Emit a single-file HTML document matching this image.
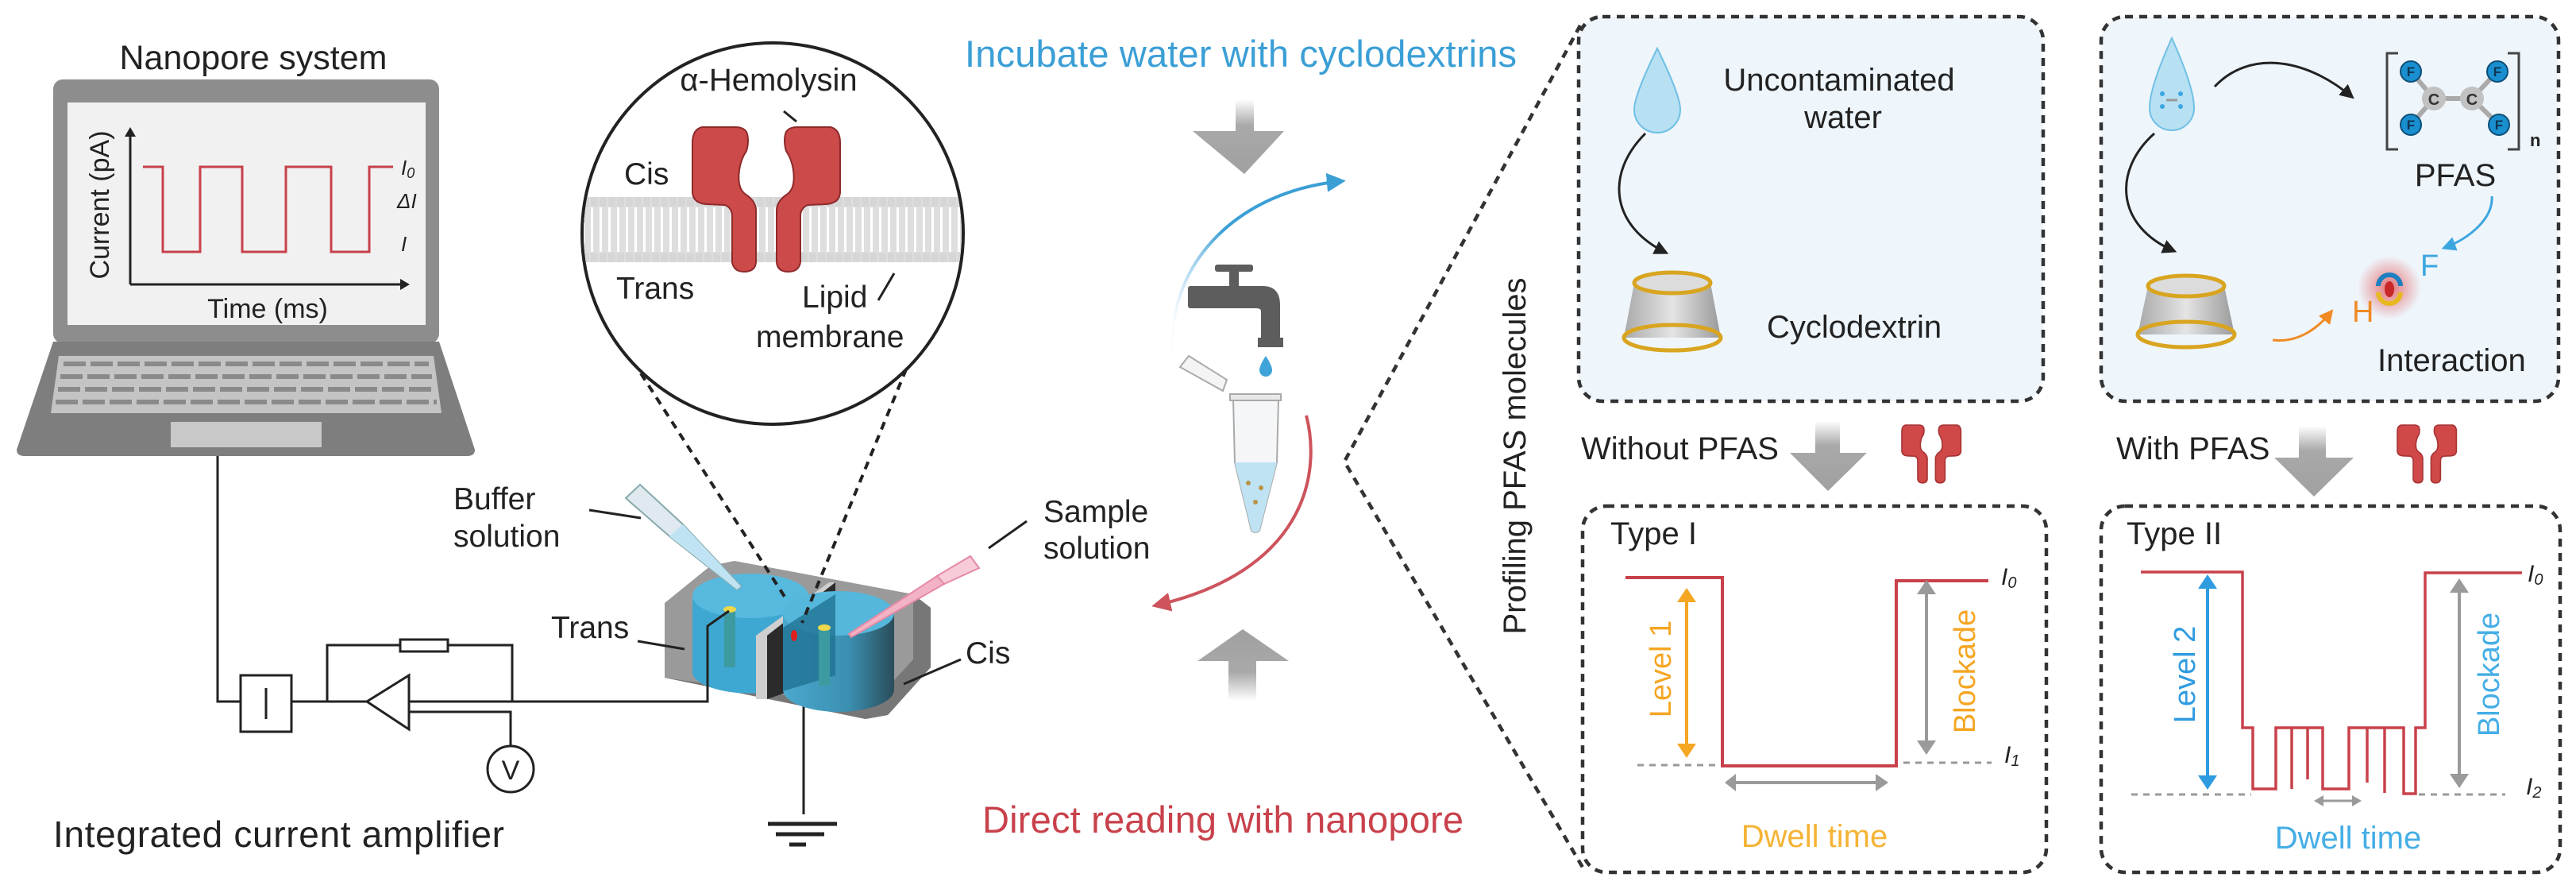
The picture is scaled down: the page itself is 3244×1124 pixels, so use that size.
<!DOCTYPE html>
<html><head><meta charset="utf-8"><style>
html,body{margin:0;padding:0;background:#fff;}
svg{display:block;}
text{font-family:"Liberation Sans",Arial,sans-serif;}
</style></head><body>
<svg width="3244" height="1124" viewBox="0 0 3244 1124" xmlns="http://www.w3.org/2000/svg">
<defs>
  <clipPath id="cc"><circle cx="973" cy="294" r="238"/></clipPath>
  <linearGradient id="ga" x1="0" y1="0" x2="0" y2="1"><stop offset="0" stop-color="#fff"/><stop offset="0.35" stop-color="#a9a9a9"/><stop offset="1" stop-color="#a0a0a0"/></linearGradient>
  <linearGradient id="gu" x1="0" y1="1" x2="0" y2="0"><stop offset="0" stop-color="#fff"/><stop offset="0.4" stop-color="#a9a9a9"/><stop offset="1" stop-color="#a0a0a0"/></linearGradient>
  <linearGradient id="cyl" x1="0" y1="0" x2="1" y2="0"><stop offset="0" stop-color="#a9a9a9"/><stop offset="0.5" stop-color="#e4e4e4"/><stop offset="1" stop-color="#9a9a9a"/></linearGradient>
  <linearGradient id="rc" x1="0" y1="0" x2="1" y2="0"><stop offset="0" stop-color="#4aa9cf"/><stop offset="0.6" stop-color="#3b8fb0"/><stop offset="1" stop-color="#2a4c5a"/></linearGradient>
  <radialGradient id="glow"><stop offset="0" stop-color="#e03a3a" stop-opacity="0.7"/><stop offset="1" stop-color="#e03a3a" stop-opacity="0"/></radialGradient>
  <linearGradient id="bc" x1="0" y1="0" x2="1" y2="0"><stop offset="0" stop-color="#3b9fd6" stop-opacity="0"/><stop offset="0.3" stop-color="#3b9fd6"/></linearGradient>
  <marker id="ab" viewBox="0 0 10 10" refX="8" refY="5" markerWidth="6" markerHeight="6" orient="auto"><path d="M0,0 L10,5 L0,10 z" fill="#3b9fd6"/></marker>
  <marker id="ar" viewBox="0 0 10 10" refX="8" refY="5" markerWidth="6" markerHeight="6" orient="auto"><path d="M0,0 L10,5 L0,10 z" fill="#c8414b"/></marker>
  <marker id="ak" viewBox="0 0 10 10" refX="8" refY="5" markerWidth="6" markerHeight="6" orient="auto"><path d="M0,0 L10,5 L0,10 z" fill="#222"/></marker>
  <marker id="ao" viewBox="0 0 10 10" refX="8" refY="5" markerWidth="6" markerHeight="6" orient="auto"><path d="M0,0 L10,5 L0,10 z" fill="#f08a24"/></marker>
  <marker id="af" viewBox="0 0 10 10" refX="8" refY="5" markerWidth="6" markerHeight="6" orient="auto"><path d="M0,0 L10,5 L0,10 z" fill="#3ba6e0"/></marker>
  <g id="prot">
    <path d="M884,160 Q872,163 872,180 L872,242 Q873,256 890,257 L913,258 Q922,262 922,272 L922,330 Q924,342 937,342 Q951,342 952,330 L952,264 Q951,252 938,244 Q928,236 931,214 Q933,200 940,190 Q944,176 940,166 Q936,160 926,160 Z"/>
    <path d="M1046,160 Q1058,163 1058,180 L1058,242 Q1057,256 1040,257 L1017,258 Q1008,262 1008,272 L1008,330 Q1006,342 993,342 Q979,342 978,330 L978,264 Q979,252 992,244 Q1002,236 999,214 Q997,200 990,190 Q986,176 990,166 Q994,160 1004,160 Z"/>
  </g>
</defs>

<!-- ============ LEFT: laptop ============ -->
<text x="319" y="87" font-size="43" fill="#222" text-anchor="middle">Nanopore system</text>
<rect x="67" y="100" width="486" height="332" rx="12" fill="#8d8d8d"/>
<rect x="85" y="129" width="451" height="280" fill="#f1f1f1"/>
<path d="M67,430 L553,430 L598,566 Q598,574 588,574 L31,574 Q21,574 21,566 Z" fill="#7e7e7e"/>
<path d="M74,448 L546,448 L556,520 L64,520 Z" fill="#c4c4c4"/>
<g stroke="#8a8a8a" stroke-width="6">
  <line x1="80" y1="458" x2="540" y2="458" stroke-dasharray="28 6"/>
  <line x1="76" y1="474" x2="544" y2="474" stroke-dasharray="28 6"/>
  <line x1="73" y1="490" x2="547" y2="490" stroke-dasharray="28 6"/>
  <line x1="70" y1="506" x2="550" y2="506" stroke-dasharray="28 6"/>
</g>
<rect x="215" y="531" width="190" height="32" fill="#c8c8c8"/>
<line x1="164" y1="358" x2="164" y2="166" stroke="#222" stroke-width="3"/>
<path d="M157,172 L164,160 L171,172 Z" fill="#222"/>
<line x1="164" y1="358" x2="508" y2="358" stroke="#222" stroke-width="3"/>
<path d="M504,351 L516,358 L504,365 Z" fill="#222"/>
<polyline points="180,210 205,210 205,317 252,317 252,210 305,210 305,317 360,317 360,210 417,210 417,317 465,317 465,210 495,210" fill="none" stroke="#c8414b" stroke-width="3"/>
<text x="505" y="220" font-size="26" font-style="italic" fill="#222">I<tspan font-size="18" dy="4">0</tspan></text>
<text x="500" y="262" font-size="26" font-style="italic" fill="#222">ΔI</text>
<text x="505" y="316" font-size="26" font-style="italic" fill="#222">I</text>
<text x="125" y="258" font-size="34" fill="#222" text-anchor="middle" transform="rotate(-90 125 258)" dy="12">Current (pA)</text>
<text x="337" y="400" font-size="34" fill="#222" text-anchor="middle">Time (ms)</text>

<!-- circuit -->
<g stroke="#222" stroke-width="3" fill="none">
  <polyline points="274,574 274,883 303,883"/>
  <rect x="303" y="850" width="64" height="71" fill="#fff"/>
  <line x1="335" y1="866" x2="335" y2="905"/>
  <line x1="367" y1="883" x2="462" y2="883"/>
  <polyline points="412,883 412,812 504,812"/>
  <rect x="504" y="805" width="60" height="15" fill="#fff"/>
  <polyline points="564,812 645,812 645,883"/>
  <path d="M462,883 L515,850 L515,918 Z" fill="#fff"/>
  <polyline points="515,883 891,883 891,788 918,769"/>
  <polyline points="515,896 643,896 643,939"/>
  <circle cx="643" cy="968" r="29" fill="#fff"/>
  <polyline points="1040,792 1012,811 1012,1025"/>
  <line x1="967" y1="1037" x2="1054" y2="1037" stroke-width="5"/>
  <line x1="977" y1="1050" x2="1038" y2="1050" stroke-width="5"/>
  <line x1="994" y1="1063" x2="1015" y2="1063" stroke-width="5"/>
</g>
<text x="643" y="981" font-size="34" fill="#222" text-anchor="middle">V</text>
<text x="67" y="1066" font-size="46" fill="#222" textLength="568">Integrated current amplifier</text>

<!-- chamber -->
<path d="M837,759 L895,712 L925,706 L1150,748 L1172,765 L1172,840 L1118,900 L1090,905 L837,853 Z" fill="#9a9a9a"/>
<path d="M837,853 L1090,905 L1118,900 L1172,840 L1172,765 L1150,748 L1150,830 L1095,890 Z" fill="#777"/>
<path d="M872,750 L872,848 A73,28 0 0 0 1017,848 L1017,750 Z" fill="#3ea8d2"/>
<ellipse cx="945" cy="750" rx="73" ry="28" fill="#58b9de"/>
<path d="M952,800 L1044,733 L1052,733 L966,800 L966,880 L952,880 Z" fill="#cfcfcf"/>
<path d="M966,800 L1052,733 L1052,850 L966,880 Z" fill="#2b2b2b"/>
<path d="M986,772 L986,868 A70,28 0 0 0 1126,868 L1126,772 Z" fill="url(#rc)"/>
<ellipse cx="1056" cy="772" rx="70" ry="28" fill="#56b7dc"/>
<path d="M986,790 L1052,748 L1052,850 L986,870 Z" fill="#1e6f8f" opacity="0.75"/>
<rect x="912" y="767" width="14" height="73" fill="#3c9aa0"/>
<ellipse cx="919" cy="767" rx="8" ry="4" fill="#f0d84a"/>
<rect x="1031" y="790" width="14" height="73" fill="#3c9aa0"/>
<ellipse cx="1038" cy="790" rx="8" ry="4" fill="#f0d84a"/>
<ellipse cx="1000" cy="800" rx="4" ry="7" fill="#e02020"/>
<polyline points="891,883 891,788 918,769" fill="none" stroke="#222" stroke-width="3"/>
<path d="M788,627 L806,610 L860,660 L933,738 L928,742 L843,675 Z" fill="#dfe9ef" stroke="#8aa" stroke-width="2"/>
<path d="M860,660 L933,738 L928,742 L843,675 Z" fill="#bfe3f3"/>
<path d="M1069,798 L1180,725 L1189,735 L1072,802 Z" fill="#f3b3c6" stroke="#e58aa5" stroke-width="2"/>
<path d="M1180,725 L1222,700 L1233,715 L1189,735 Z" fill="#f7cbd8" stroke="#e58aa5" stroke-width="2"/>
<text x="571" y="641" font-size="39" fill="#222">Buffer</text>
<text x="571" y="688" font-size="39" fill="#222">solution</text>
<line x1="742" y1="642" x2="807" y2="652" stroke="#222" stroke-width="3"/>
<text x="694" y="803" font-size="39" fill="#222">Trans</text>
<line x1="803" y1="807" x2="862" y2="817" stroke="#222" stroke-width="3"/>
<text x="1314" y="657" font-size="39" fill="#222">Sample</text>
<text x="1314" y="703" font-size="39" fill="#222">solution</text>
<line x1="1245" y1="690" x2="1293" y2="656" stroke="#222" stroke-width="3"/>
<text x="1216" y="835" font-size="39" fill="#222">Cis</text>
<line x1="1138" y1="861" x2="1210" y2="830" stroke="#222" stroke-width="3"/>
<line x1="807" y1="470" x2="990" y2="754" stroke="#222" stroke-width="4" stroke-dasharray="10 8"/>
<line x1="1148" y1="448" x2="1010" y2="784" stroke="#222" stroke-width="4" stroke-dasharray="10 8"/>

<!-- magnified circle -->
<circle cx="973" cy="294" r="240" fill="#fff" stroke="#222" stroke-width="4"/>
<g clip-path="url(#cc)">
  <rect x="700" y="248" width="560" height="82" rx="8" fill="#dedede"/>
  <line x1="700" y1="289" x2="1260" y2="289" stroke="#fff" stroke-width="56" stroke-dasharray="3 8"/>
  <line x1="700" y1="254" x2="1260" y2="254" stroke="#d6d6d6" stroke-width="12" stroke-dasharray="9 2"/>
  <line x1="700" y1="324" x2="1260" y2="324" stroke="#d6d6d6" stroke-width="12" stroke-dasharray="9 2"/>
</g>
<use href="#prot" fill="#cc4a4a" stroke="#8e2a2a" stroke-width="2"/>
<text x="968" y="114" font-size="40" fill="#222" text-anchor="middle">α-Hemolysin</text>
<line x1="987" y1="140" x2="1003" y2="153" stroke="#222" stroke-width="3"/>
<text x="786" y="232" font-size="39" fill="#222">Cis</text>
<text x="776" y="376" font-size="39" fill="#222">Trans</text>
<text x="1010" y="387" font-size="39" fill="#222">Lipid</text>
<text x="952" y="437" font-size="39" fill="#222">membrane</text>
<line x1="1126" y1="344" x2="1106" y2="378" stroke="#222" stroke-width="3"/>

<!-- ============ MIDDLE ============ -->
<text x="1215" y="84" font-size="47" fill="#3b9fd6" textLength="695">Incubate water with cyclodextrins</text>
<path d="M1556,125 L1579,125 L1579,165 L1617,165 L1567,219 L1502,165 L1556,165 Z" fill="url(#ga)"/>
<path d="M1476,445 C1470,330 1560,240 1690,228" fill="none" stroke="url(#bc)" stroke-width="4" marker-end="url(#ab)"/>
<g fill="#5d5d5d">
  <rect x="1530" y="333" width="48" height="9" rx="3"/>
  <rect x="1548" y="340" width="12" height="22"/>
  <rect x="1496" y="360" width="80" height="28" rx="3"/>
  <path d="M1570,360 L1590,360 Q1612,360 1612,384 L1612,430 L1588,430 L1588,392 Q1588,388 1582,388 L1570,388 Z"/>
  <rect x="1584" y="425" width="32" height="12"/>
</g>
<path d="M1594,448 Q1602,460 1602,466 A8,8 0 0 1 1586,466 Q1586,460 1594,448 Z" fill="#3ea3d8"/>
<path d="M1486,462 L1497,448 L1545,478 L1540,492 Z" fill="#f4f4f4" stroke="#aaa" stroke-width="2"/>
<path d="M1553,502 L1610,502 L1608,582 L1586,668 Q1581,672 1576,668 L1555,582 Z" fill="#f4f6f8" stroke="#aaa" stroke-width="2"/>
<path d="M1555,582 L1608,582 L1586,668 Q1581,672 1576,668 Z" fill="#bfe3f3"/>
<rect x="1549" y="496" width="64" height="8" fill="#e8e8e8" stroke="#aaa" stroke-width="2"/>
<circle cx="1572" cy="608" r="3" fill="#b8944a"/><circle cx="1588" cy="614" r="3" fill="#b8944a"/><circle cx="1581" cy="632" r="3" fill="#b8944a"/>
<path d="M1645,523 C1665,600 1640,720 1455,762" fill="none" stroke="#c8414b" stroke-width="4" marker-end="url(#ar)" opacity="0.9"/>
<path d="M1565,792 L1623,832 L1582,832 L1582,882 L1547,882 L1547,832 L1508,832 Z" fill="url(#gu)"/>
<text x="1237" y="1048" font-size="47" fill="#c8414b" textLength="606">Direct reading with nanopore</text>
<polyline points="1990,32 1693,581 1995,1095" fill="none" stroke="#333" stroke-width="4.5" stroke-dasharray="10 8"/>
<text x="1907" y="574" font-size="40" fill="#222" text-anchor="middle" transform="rotate(-90 1907 574)" dy="14">Profiling PFAS molecules</text>

<!-- ============ RIGHT TOP BOXES ============ -->
<rect x="1988" y="21" width="585" height="484" rx="30" fill="#eef5fb" stroke="#333" stroke-width="4.5" stroke-dasharray="10 8"/>
<path d="M2087,61 Q2116,120 2116,138 A29,29 0 0 1 2058,138 Q2058,120 2087,61 Z" fill="#b7e0f3" stroke="#6fc0e4" stroke-width="2"/>
<text x="2316" y="114" font-size="40" fill="#222" text-anchor="middle">Uncontaminated</text>
<text x="2321" y="161" font-size="40" fill="#222" text-anchor="middle">water</text>
<path d="M2072,168 C2020,220 2030,285 2098,318" fill="none" stroke="#222" stroke-width="3" marker-end="url(#ak)"/>
<g>
  <path d="M2058,356 L2154,356 L2167,425 L2045,425 Z" fill="url(#cyl)"/>
  <ellipse cx="2106" cy="356" rx="48" ry="13" fill="#dcdcdc" stroke="#d9a520" stroke-width="5"/>
  <ellipse cx="2106" cy="425" rx="61" ry="16" fill="none" stroke="#d9a520" stroke-width="5"/>
</g>
<text x="2225" y="425" font-size="40" fill="#222">Cyclodextrin</text>

<rect x="2646" y="21" width="576" height="484" rx="30" fill="#eef5fb" stroke="#333" stroke-width="4.5" stroke-dasharray="10 8"/>
<path d="M2735,48 Q2763,110 2763,136 A28,28 0 0 1 2707,136 Q2707,110 2735,48 Z" fill="#b7e0f3" stroke="#6fc0e4" stroke-width="2"/>
<g fill="#3ba6e0"><circle cx="2723" cy="118" r="3"/><circle cx="2723" cy="134" r="3"/><circle cx="2746" cy="118" r="3"/><circle cx="2746" cy="134" r="3"/></g>
<line x1="2728" y1="126" x2="2742" y2="126" stroke="#999" stroke-width="3"/>
<path d="M2789,109 C2830,65 2900,70 2962,122" fill="none" stroke="#222" stroke-width="3" marker-end="url(#ak)"/>
<path d="M2713,168 C2660,215 2665,285 2738,316" fill="none" stroke="#222" stroke-width="3" marker-end="url(#ak)"/>
<path d="M3020,67 L3006,67 L3006,188 L3020,188" fill="none" stroke="#444" stroke-width="3"/>
<path d="M3158,67 L3172,67 L3172,188 L3158,188" fill="none" stroke="#444" stroke-width="3"/>
<g stroke="#aaa" stroke-width="6"><line x1="3036" y1="90" x2="3065" y2="124"/><line x1="3036" y1="157" x2="3065" y2="124"/><line x1="3065" y1="124" x2="3113" y2="124"/><line x1="3113" y1="124" x2="3145" y2="90"/><line x1="3113" y1="124" x2="3147" y2="157"/></g>
<circle cx="3065" cy="124" r="15" fill="#c2c2c2"/><circle cx="3113" cy="124" r="15" fill="#c2c2c2"/>
<text x="3065" y="132" font-size="20" font-weight="bold" fill="#333" text-anchor="middle">C</text>
<text x="3113" y="132" font-size="20" font-weight="bold" fill="#333" text-anchor="middle">C</text>
<g fill="#1a8fd0" stroke="#0d4f78" stroke-width="2"><circle cx="3036" cy="90" r="13"/><circle cx="3145" cy="90" r="13"/><circle cx="3036" cy="157" r="13"/><circle cx="3147" cy="157" r="13"/></g>
<g font-size="17" font-weight="bold" fill="#0d3550" text-anchor="middle"><text x="3036" y="96">F</text><text x="3145" y="96">F</text><text x="3036" y="163">F</text><text x="3147" y="163">F</text></g>
<text x="3186" y="184" font-size="22" font-weight="bold" fill="#222">n</text>
<text x="3092" y="234" font-size="40" fill="#222" text-anchor="middle">PFAS</text>
<path d="M3138,247 C3140,275 3110,300 3078,312" fill="none" stroke="#3ba6e0" stroke-width="3" marker-end="url(#af)"/>
<text x="3048" y="347" font-size="38" fill="#3ba6e0">F</text>
<circle cx="3009" cy="362" r="40" fill="url(#glow)"/>
<path d="M2995,360 A14,14 0 0 1 3023,360" fill="none" stroke="#1e7fc0" stroke-width="6"/>
<path d="M2995,368 A14,14 0 0 0 3023,368" fill="none" stroke="#e8b820" stroke-width="6"/>
<ellipse cx="3009" cy="364" rx="6" ry="10" fill="#c82828"/>
<text x="2962" y="405" font-size="38" fill="#f08a24">H</text>
<path d="M2862,428 C2895,432 2920,412 2936,392" fill="none" stroke="#f08a24" stroke-width="3" marker-end="url(#ao)"/>
<g>
  <path d="M2705,360 L2801,360 L2814,421 L2692,421 Z" fill="url(#cyl)"/>
  <ellipse cx="2753" cy="360" rx="48" ry="13" fill="#dcdcdc" stroke="#d9a520" stroke-width="5"/>
  <ellipse cx="2753" cy="421" rx="61" ry="16" fill="none" stroke="#d9a520" stroke-width="5"/>
</g>
<text x="2994" y="467" font-size="40" fill="#222">Interaction</text>

<!-- middle labels + arrows -->
<text x="1991" y="578" font-size="40" fill="#222">Without PFAS</text>
<path d="M2286,530 L2317,530 L2317,570 L2351,570 L2302,618 L2254,570 L2286,570 Z" fill="url(#ga)"/>
<g transform="translate(2395,535) scale(0.4) translate(-872,-160)"><use href="#prot" fill="#d04848" stroke="#a63434" stroke-width="4"/></g>
<text x="2665" y="578" font-size="40" fill="#222">With PFAS</text>
<path d="M2895,536 L2929,536 L2929,576 L2964,576 L2914,625 L2864,576 L2895,576 Z" fill="url(#ga)"/>
<g transform="translate(3019,535) scale(0.4) translate(-872,-160)"><use href="#prot" fill="#d04848" stroke="#a63434" stroke-width="4"/></g>

<!-- ============ BOTTOM BOXES ============ -->
<rect x="1993" y="637" width="584" height="461" rx="30" fill="#fff" stroke="#333" stroke-width="4.5" stroke-dasharray="10 8"/>
<text x="2028" y="685" font-size="40" fill="#222">Type I</text>
<polyline points="2047,727 2169,727 2169,964 2388,964 2388,731 2504,731" fill="none" stroke="#c8414b" stroke-width="4"/>
<line x1="2062" y1="963" x2="2164" y2="963" stroke="#999" stroke-width="3" stroke-dasharray="8 7"/>
<line x1="2397" y1="960" x2="2508" y2="960" stroke="#999" stroke-width="3" stroke-dasharray="8 7"/>
<text x="2520" y="736" font-size="30" font-style="italic" fill="#222">I<tspan font-size="20" dy="4">0</tspan></text>
<text x="2524" y="960" font-size="30" font-style="italic" fill="#222">I<tspan font-size="20" dy="4">1</tspan></text>
<line x1="2124" y1="752" x2="2124" y2="942" stroke="#f5a623" stroke-width="4"/>
<path d="M2112,758 L2124,740 L2136,758 Z M2112,936 L2124,954 L2136,936 Z" fill="#f5a623"/>
<text x="2091" y="842" font-size="38" fill="#f5a623" text-anchor="middle" transform="rotate(-90 2091 842)" dy="13">Level 1</text>
<line x1="2426" y1="742" x2="2426" y2="938" stroke="#9a9a9a" stroke-width="4"/>
<path d="M2414,748 L2426,730 L2438,748 Z M2414,932 L2426,950 L2438,932 Z" fill="#9a9a9a"/>
<text x="2474" y="845" font-size="38" fill="#f5a623" text-anchor="middle" transform="rotate(-90 2474 845)" dy="13">Blockade</text>
<line x1="2180" y1="985" x2="2368" y2="985" stroke="#9a9a9a" stroke-width="4"/>
<path d="M2186,974 L2172,985 L2186,996 Z M2362,974 L2378,985 L2362,996 Z" fill="#9a9a9a"/>
<text x="2285" y="1066" font-size="40" fill="#f5b335" text-anchor="middle">Dwell time</text>

<rect x="2646" y="637" width="578" height="461" rx="30" fill="#fff" stroke="#333" stroke-width="4.5" stroke-dasharray="10 8"/>
<text x="2678" y="685" font-size="40" fill="#222">Type II</text>
<polyline points="2696,720 2824,720 2824,916 2837,916 2837,993 2866,993 2866,916 2925,916 2925,993 2958,993 2958,916 3027,916 3027,999 3042,999 3042,916 3054,916 3054,721 3176,721" fill="none" stroke="#c8414b" stroke-width="3.5"/>
<g stroke="#c8414b" stroke-width="3.5"><line x1="2886" y1="916" x2="2886" y2="993"/><line x1="2906" y1="916" x2="2906" y2="981"/><line x1="2981" y1="916" x2="2981" y2="985"/><line x1="3003" y1="916" x2="3003" y2="998"/></g>
<line x1="2684" y1="1000" x2="2835" y2="1000" stroke="#999" stroke-width="3" stroke-dasharray="8 7"/>
<line x1="3046" y1="1000" x2="3155" y2="1000" stroke="#999" stroke-width="3" stroke-dasharray="8 7"/>
<text x="3183" y="732" font-size="30" font-style="italic" fill="#222">I<tspan font-size="20" dy="4">0</tspan></text>
<text x="3181" y="1000" font-size="30" font-style="italic" fill="#222">I<tspan font-size="20" dy="4">2</tspan></text>
<line x1="2780" y1="735" x2="2780" y2="982" stroke="#2f9be0" stroke-width="4"/>
<path d="M2768,741 L2780,723 L2792,741 Z M2768,976 L2780,994 L2792,976 Z" fill="#2f9be0"/>
<text x="2751" y="849" font-size="38" fill="#2f9be0" text-anchor="middle" transform="rotate(-90 2751 849)" dy="13">Level 2</text>
<line x1="3097" y1="740" x2="3097" y2="980" stroke="#9a9a9a" stroke-width="4"/>
<path d="M3085,746 L3097,728 L3109,746 Z M3085,974 L3097,992 L3109,974 Z" fill="#9a9a9a"/>
<text x="3134" y="849" font-size="38" fill="#45aee6" text-anchor="middle" transform="rotate(-90 3134 849)" dy="13">Blockade</text>
<line x1="2922" y1="1008" x2="2966" y2="1008" stroke="#9a9a9a" stroke-width="3"/>
<path d="M2926,1001 L2914,1008 L2926,1015 Z M2962,1001 L2974,1008 L2962,1015 Z" fill="#9a9a9a"/>
<text x="2957" y="1068" font-size="40" fill="#45aee6" text-anchor="middle">Dwell time</text>
</svg>
</body></html>
